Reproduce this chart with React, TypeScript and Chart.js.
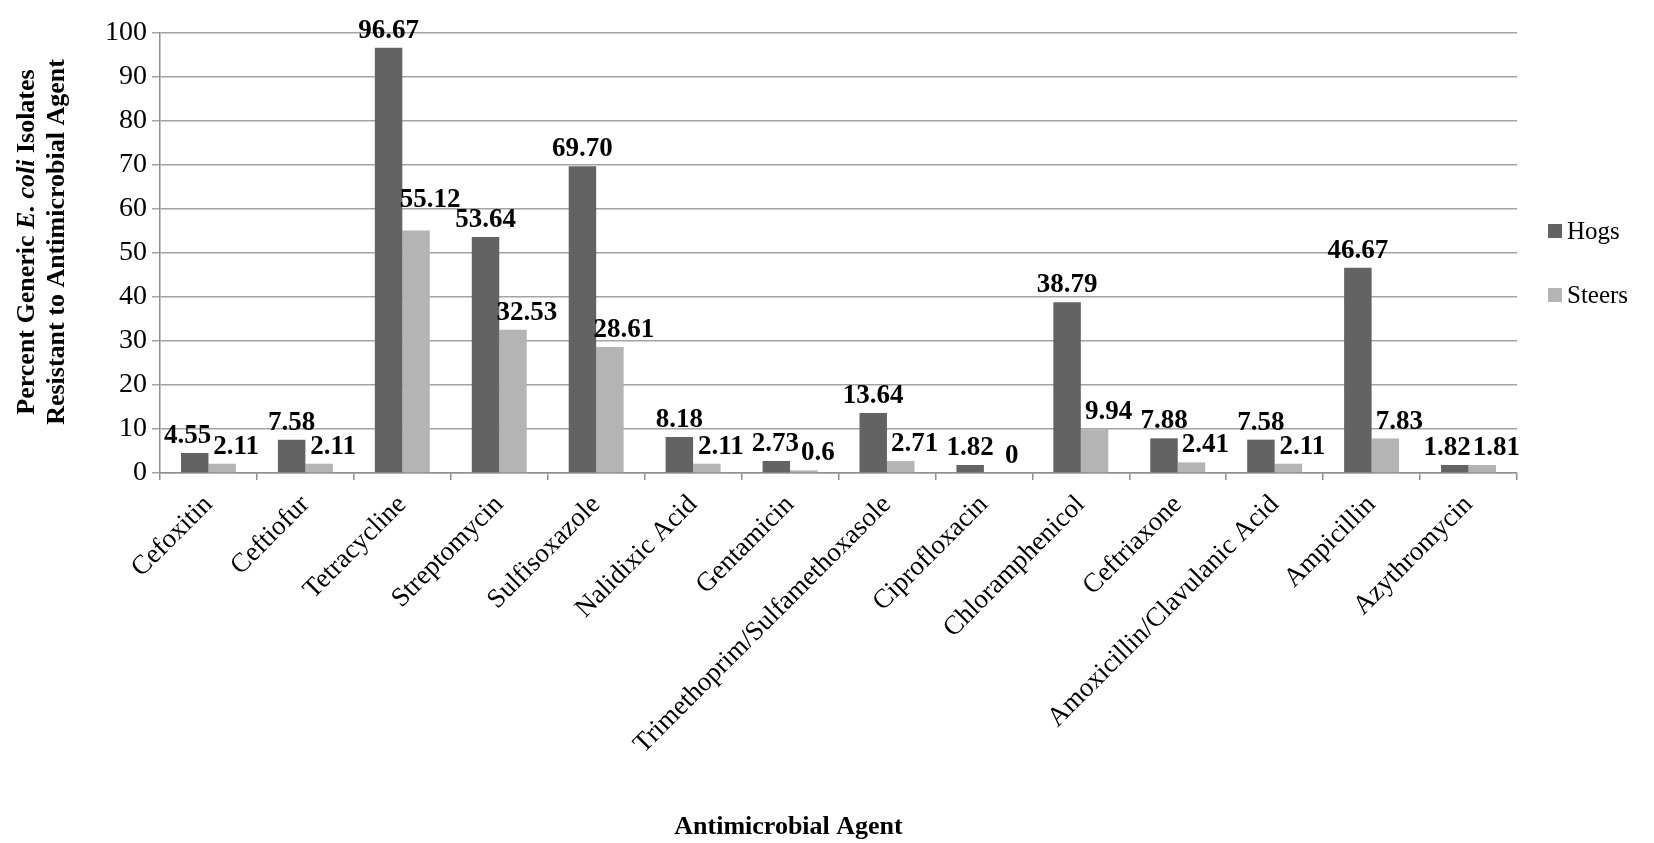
import React, { useEffect, useRef } from "react";
import { Chart, registerables } from "chart.js";

Chart.register(...registerables);

const categories = [
  "Cefoxitin",
  "Ceftiofur",
  "Tetracycline",
  "Streptomycin",
  "Sulfisoxazole",
  "Nalidixic Acid",
  "Gentamicin",
  "Trimethoprim/Sulfamethoxasole",
  "Ciprofloxacin",
  "Chloramphenicol",
  "Ceftriaxone",
  "Amoxicillin/Clavulanic Acid",
  "Ampicillin",
  "Azythromycin",
];

const hogs = [4.55, 7.58, 96.67, 53.64, 69.7, 8.18, 2.73, 13.64, 1.82, 38.79, 7.88, 7.58, 46.67, 1.82];
const steers = [2.11, 2.11, 55.12, 32.53, 28.61, 2.11, 0.6, 2.71, 0, 9.94, 2.41, 2.11, 7.83, 1.81];

const seriesNames = ["Hogs", "Steers"];
const seriesColors = ["#636363", "#b4b4b4"];

const yMin = 0;
const yMax = 100;
const yStep = 10;

const xTitle = "Antimicrobial Agent";
const yTitleLine1 = [
  { text: "Percent Generic ", italic: false },
  { text: "E. coli", italic: true },
  { text: " Isolates", italic: false },
];
const yTitleLine2 = [{ text: "Resistant to Antimicrobial Agent", italic: false }];

const FONT = "'Liberation Serif', 'Times New Roman', serif";
const GRID = "#a3a3a3";
const AXIS = "#8f8f8f";

const labelFormat = [
  (v: number) => v.toFixed(2),
  (v: number) => String(v),
];

const LABEL_H = 18;

const valueLabelPlugin = {
  id: "valueLabels",
  afterDatasetsDraw(chart: any) {
    const ctx = chart.ctx;
    ctx.save();
    ctx.font = `bold 27px ${FONT}`;
    ctx.fillStyle = "#000";
    ctx.textAlign = "center";
    ctx.textBaseline = "alphabetic";
    const rows: any[][] = categories.map((_, j) => {
      const items = chart.data.datasets.map((ds: any, i: number) => {
        const el = chart.getDatasetMeta(i).data[j];
        const text = labelFormat[i](ds.data[j]);
        const w = ctx.measureText(text).width;
        return { x: el.x + (i === 1 ? 14 : 0), base: el.y - 10, text, w, j };
      });
      const a = items[0];
      const b = items[1];
      const minDist = (a.w + b.w) / 2 + 2;
      if (Math.abs(a.base - b.base) < LABEL_H && b.x - a.x < minDist) {
        a.x = b.x - minDist;
      }
      return items;
    });
    const first = rows.map((r) => r[0]);
    rows.forEach((r) => {
      const b = r[1];
      first.forEach((a) => {
        if (a.j === b.j) return;
        const hOverlap = b.x - b.w / 2 < a.x + a.w / 2 && a.x - a.w / 2 < b.x + b.w / 2;
        const vOverlap = b.base - LABEL_H < a.base && a.base - LABEL_H < b.base;
        if (hOverlap && vOverlap) {
          b.base = a.base - LABEL_H - 2;
        }
      });
    });
    rows.forEach((r) => r.forEach((it: any) => ctx.fillText(it.text, it.x, it.base)));
    ctx.restore();
  },
};

function drawMixed(ctx: any, parts: { text: string; italic: boolean }[], size: number) {
  const fonts = parts.map((p) => `${p.italic ? "italic " : ""}bold ${size}px ${FONT}`);
  let total = 0;
  const widths = parts.map((p, i) => {
    ctx.font = fonts[i];
    const w = ctx.measureText(p.text).width;
    total += w;
    return w;
  });
  let x = -total / 2;
  parts.forEach((p, i) => {
    ctx.font = fonts[i];
    ctx.fillText(p.text, x, 0);
    x += widths[i];
  });
}

const titlesPlugin = {
  id: "axisTitles",
  afterDraw(chart: any) {
    const ctx = chart.ctx;
    const area = chart.chartArea;
    const cy = (area.top + area.bottom) / 2 - 11;
    ctx.save();
    ctx.fillStyle = "#000";
    ctx.textAlign = "left";
    ctx.textBaseline = "middle";
    ctx.save();
    ctx.translate(27, cy);
    ctx.rotate(-Math.PI / 2);
    drawMixed(ctx, yTitleLine1, 26);
    ctx.restore();
    ctx.save();
    ctx.translate(57, cy);
    ctx.rotate(-Math.PI / 2);
    drawMixed(ctx, yTitleLine2, 26);
    ctx.restore();
    ctx.font = `bold 26px ${FONT}`;
    ctx.textAlign = "center";
    ctx.fillText(xTitle, (area.left + area.right) / 2 - 50, 827);
    ctx.restore();
  },
};

const legendPlugin = {
  id: "sideLegend",
  afterDraw(chart: any) {
    const ctx = chart.ctx;
    const area = chart.chartArea;
    const mid = (area.top + area.bottom) / 2 + 10;
    const spacing = 64;
    ctx.save();
    ctx.font = `25px ${FONT}`;
    ctx.textAlign = "left";
    ctx.textBaseline = "middle";
    chart.data.datasets.forEach((ds: any, i: number) => {
      const y = mid + (i - (chart.data.datasets.length - 1) / 2) * spacing;
      const x = area.right + 31;
      ctx.fillStyle = ds.backgroundColor;
      ctx.fillRect(x, y - 7, 14, 14);
      ctx.fillStyle = "#000";
      ctx.fillText(ds.label, x + 19, y + 1);
    });
    ctx.restore();
  },
};

export default function App() {
  const ref = useRef<HTMLCanvasElement | null>(null);
  useEffect(() => {
    document.body.style.margin = "0";
    const canvas = ref.current;
    if (!canvas) return;
    const chart = new Chart(canvas, {
      type: "bar",
      data: {
        labels: categories,
        datasets: [
          { label: seriesNames[0], data: hogs, backgroundColor: seriesColors[0], borderWidth: 0 },
          { label: seriesNames[1], data: steers, backgroundColor: seriesColors[1], borderWidth: 0 },
        ],
      },
      options: {
        animation: false,
        responsive: false,
        maintainAspectRatio: false,
        devicePixelRatio: 1,
        layout: { padding: { top: 33, right: 137, bottom: 0, left: 0 } },
        datasets: { bar: { categoryPercentage: 0.567, barPercentage: 1 } },
        plugins: {
          legend: { display: false },
          tooltip: { enabled: false },
          title: { display: false },
        },
        scales: {
          x: {
            offset: true,
            grid: {
              display: true,
              offset: true,
              drawOnChartArea: false,
              drawTicks: true,
              tickLength: 7,
              color: AXIS,
              lineWidth: 1.5,
            },
            border: { display: true, color: AXIS, width: 1.5 },
            ticks: {
              font: { family: FONT, size: 27 },
              color: "#000",
              minRotation: 45,
              maxRotation: 45,
              autoSkip: false,
              padding: 9,
            },
            afterFit: (s: any) => {
              s.height = 370;
            },
          },
          y: {
            min: yMin,
            max: yMax,
            ticks: {
              stepSize: yStep,
              font: { family: FONT, size: 28 },
              color: "#000",
              padding: 5,
            },
            grid: { color: GRID, lineWidth: 1.5, tickLength: 8, drawTicks: true },
            border: { display: true, color: AXIS, width: 1.5 },
            afterFit: (s: any) => {
              s.width = 160;
            },
          },
        },
      },
      plugins: [valueLabelPlugin, titlesPlugin, legendPlugin],
    });
    return () => chart.destroy();
  }, []);
  return (
    <canvas
      ref={ref}
      width={1654}
      height={843}
      style={{ display: "block", width: "1654px", height: "843px", background: "#fff" }}
    />
  );
}
